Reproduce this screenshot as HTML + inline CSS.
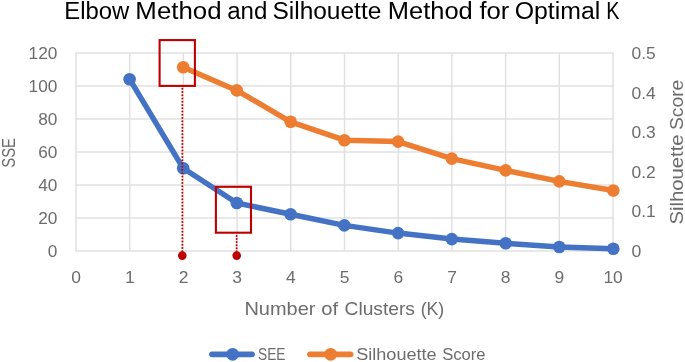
<!DOCTYPE html><html><head><meta charset="utf-8"><title>Elbow Method and Silhouette Method for Optimal K</title>
<style>html,body{margin:0;padding:0;background:#fff;}svg{display:block;font-family:"Liberation Sans",sans-serif;}</style></head><body>
<svg width="685" height="362" viewBox="0 0 685 362">
<rect width="685" height="362" fill="#fff"/>
<g stroke="#e0e0e0" stroke-width="1.45" fill="none">
<line x1="75.3" y1="53.0" x2="613.7" y2="53.0"/>
<line x1="75.3" y1="86.0" x2="613.7" y2="86.0"/>
<line x1="75.3" y1="119.0" x2="613.7" y2="119.0"/>
<line x1="75.3" y1="152.0" x2="613.7" y2="152.0"/>
<line x1="75.3" y1="185.0" x2="613.7" y2="185.0"/>
<line x1="75.3" y1="218.0" x2="613.7" y2="218.0"/>
<line x1="75.3" y1="251.0" x2="613.7" y2="251.0"/>
<line x1="76.0" y1="53.0" x2="76.0" y2="251.0"/>
<line x1="129.7" y1="53.0" x2="129.7" y2="251.0"/>
<line x1="183.4" y1="53.0" x2="183.4" y2="251.0"/>
<line x1="237.1" y1="53.0" x2="237.1" y2="251.0"/>
<line x1="290.8" y1="53.0" x2="290.8" y2="251.0"/>
<line x1="344.5" y1="53.0" x2="344.5" y2="251.0"/>
<line x1="398.2" y1="53.0" x2="398.2" y2="251.0"/>
<line x1="451.9" y1="53.0" x2="451.9" y2="251.0"/>
<line x1="505.6" y1="53.0" x2="505.6" y2="251.0"/>
<line x1="559.3" y1="53.0" x2="559.3" y2="251.0"/>
<line x1="613.0" y1="53.0" x2="613.0" y2="251.0"/>
</g>
<text y="19.0" font-size="23.3" fill="#000"><tspan x="64.25" textLength="65.00" lengthAdjust="spacingAndGlyphs">Elbow</tspan> <tspan x="135.38" textLength="86.14" lengthAdjust="spacingAndGlyphs">Method</tspan> <tspan x="227.17" textLength="40.15" lengthAdjust="spacingAndGlyphs">and</tspan> <tspan x="272.45" textLength="108.87" lengthAdjust="spacingAndGlyphs">Silhouette</tspan> <tspan x="387.81" textLength="84.99" lengthAdjust="spacingAndGlyphs">Method</tspan> <tspan x="479.42" textLength="29.96" lengthAdjust="spacingAndGlyphs">for</tspan> <tspan x="514.73" textLength="85.58" lengthAdjust="spacingAndGlyphs">Optimal</tspan> <tspan x="606.19" textLength="13.26" lengthAdjust="spacingAndGlyphs">K</tspan></text>
<g font-size="17.2" fill="#6c6c6c" text-anchor="end">
<text x="57.4" y="59.0" textLength="28.8" lengthAdjust="spacingAndGlyphs">120</text>
<text x="57.4" y="92.0" textLength="28.8" lengthAdjust="spacingAndGlyphs">100</text>
<text x="57.4" y="125.0" textLength="19.2" lengthAdjust="spacingAndGlyphs">80</text>
<text x="57.4" y="158.0" textLength="19.2" lengthAdjust="spacingAndGlyphs">60</text>
<text x="57.4" y="191.0" textLength="19.2" lengthAdjust="spacingAndGlyphs">40</text>
<text x="57.4" y="224.0" textLength="19.2" lengthAdjust="spacingAndGlyphs">20</text>
<text x="57.4" y="257.0" textLength="9.6" lengthAdjust="spacingAndGlyphs">0</text>
</g>
<g font-size="17.2" fill="#6c6c6c" text-anchor="start">
<text x="631.6" y="59.0" textLength="24.2" lengthAdjust="spacingAndGlyphs">0.5</text>
<text x="631.6" y="98.6" textLength="24.2" lengthAdjust="spacingAndGlyphs">0.4</text>
<text x="631.6" y="138.2" textLength="24.2" lengthAdjust="spacingAndGlyphs">0.3</text>
<text x="631.6" y="177.8" textLength="24.2" lengthAdjust="spacingAndGlyphs">0.2</text>
<text x="631.6" y="217.4" textLength="24.2" lengthAdjust="spacingAndGlyphs">0.1</text>
<text x="631.6" y="257.0" textLength="9.8" lengthAdjust="spacingAndGlyphs">0</text>
</g>
<g font-size="17.2" fill="#6c6c6c" text-anchor="middle">
<text x="76.1" y="283.0" textLength="9.7" lengthAdjust="spacingAndGlyphs">0</text>
<text x="129.8" y="283.0" textLength="9.7" lengthAdjust="spacingAndGlyphs">1</text>
<text x="183.5" y="283.0" textLength="9.7" lengthAdjust="spacingAndGlyphs">2</text>
<text x="237.2" y="283.0" textLength="9.7" lengthAdjust="spacingAndGlyphs">3</text>
<text x="290.9" y="283.0" textLength="9.7" lengthAdjust="spacingAndGlyphs">4</text>
<text x="344.6" y="283.0" textLength="9.7" lengthAdjust="spacingAndGlyphs">5</text>
<text x="398.3" y="283.0" textLength="9.7" lengthAdjust="spacingAndGlyphs">6</text>
<text x="452.0" y="283.0" textLength="9.7" lengthAdjust="spacingAndGlyphs">7</text>
<text x="505.7" y="283.0" textLength="9.7" lengthAdjust="spacingAndGlyphs">8</text>
<text x="559.4" y="283.0" textLength="9.7" lengthAdjust="spacingAndGlyphs">9</text>
<text x="613.1" y="283.0" textLength="19.4" lengthAdjust="spacingAndGlyphs">10</text>
</g>
<text y="315.1" font-size="18.2" fill="#6c6c6c"><tspan x="244.45" textLength="70.95" lengthAdjust="spacingAndGlyphs">Number</tspan> <tspan x="321.37" textLength="16.85" lengthAdjust="spacingAndGlyphs">of</tspan> <tspan x="344.54" textLength="70.40" lengthAdjust="spacingAndGlyphs">Clusters</tspan> <tspan x="420.63" textLength="23.54" lengthAdjust="spacingAndGlyphs">(K)</tspan></text>
<text y="0" font-size="18.2" fill="#6c6c6c" transform="translate(15.0,0) rotate(-90)"><tspan x="-167.71" textLength="29.75" lengthAdjust="spacingAndGlyphs">SSE</tspan></text>
<text y="0" font-size="18.2" fill="#6c6c6c" transform="translate(683.3,0) rotate(-90)"><tspan x="-224.64" textLength="90.25" lengthAdjust="spacingAndGlyphs">Silhouette</tspan> <tspan x="-130.10" textLength="50.41" lengthAdjust="spacingAndGlyphs">Score</tspan></text>
<polyline points="129.6,79.2 183.2,168.3 236.8,203.0 290.6,214.3 344.4,225.4 398.1,233.1 451.8,239.1 505.7,243.3 559.3,247.0 613.3,248.8" fill="none" stroke="#4472c4" stroke-width="5.5" stroke-linejoin="round" stroke-linecap="round"/>
<circle cx="129.6" cy="79.2" r="6.3" fill="#4472c4"/>
<circle cx="183.2" cy="168.3" r="6.3" fill="#4472c4"/>
<circle cx="236.8" cy="203.0" r="6.3" fill="#4472c4"/>
<circle cx="290.6" cy="214.3" r="6.3" fill="#4472c4"/>
<circle cx="344.4" cy="225.4" r="6.3" fill="#4472c4"/>
<circle cx="398.1" cy="233.1" r="6.3" fill="#4472c4"/>
<circle cx="451.8" cy="239.1" r="6.3" fill="#4472c4"/>
<circle cx="505.7" cy="243.3" r="6.3" fill="#4472c4"/>
<circle cx="559.3" cy="247.0" r="6.3" fill="#4472c4"/>
<circle cx="613.3" cy="248.8" r="6.3" fill="#4472c4"/>
<polyline points="183.2,67.2 236.8,90.4 290.6,121.8 344.4,140.2 398.1,141.6 451.8,158.6 505.7,170.4 559.3,181.4 613.3,190.5" fill="none" stroke="#ed7d31" stroke-width="5.5" stroke-linejoin="round" stroke-linecap="round"/>
<circle cx="183.2" cy="67.2" r="6.3" fill="#ed7d31"/>
<circle cx="236.8" cy="90.4" r="6.3" fill="#ed7d31"/>
<circle cx="290.6" cy="121.8" r="6.3" fill="#ed7d31"/>
<circle cx="344.4" cy="140.2" r="6.3" fill="#ed7d31"/>
<circle cx="398.1" cy="141.6" r="6.3" fill="#ed7d31"/>
<circle cx="451.8" cy="158.6" r="6.3" fill="#ed7d31"/>
<circle cx="505.7" cy="170.4" r="6.3" fill="#ed7d31"/>
<circle cx="559.3" cy="181.4" r="6.3" fill="#ed7d31"/>
<circle cx="613.3" cy="190.5" r="6.3" fill="#ed7d31"/>
<g stroke="#c00000" stroke-width="2" stroke-dasharray="0 3.25" stroke-linecap="round" fill="none">
<line x1="182.3" y1="88.7" x2="182.3" y2="252"/>
<line x1="236.6" y1="236" x2="236.6" y2="252" stroke-dasharray="0 3.05"/>
</g>
<circle cx="182.3" cy="255.6" r="4.3" fill="#c00000"/><circle cx="236.7" cy="255.6" r="4.3" fill="#c00000"/>
<g stroke="#c00000" stroke-width="2.1" fill="none">
<rect x="159.6" y="40.1" width="35.3" height="45.8"/>
<rect x="215.9" y="186.8" width="35.1" height="45.9"/>
</g>
<line x1="212" y1="354.3" x2="252" y2="354.3" stroke="#4472c4" stroke-width="5.8" stroke-linecap="round"/><circle cx="232.6" cy="354.3" r="6.4" fill="#4472c4"/>
<text y="359.8" font-size="17.2" fill="#6c6c6c"><tspan x="258.10" textLength="27.42" lengthAdjust="spacingAndGlyphs">SEE</tspan></text>
<line x1="310" y1="354.3" x2="350.6" y2="354.3" stroke="#ed7d31" stroke-width="5.8" stroke-linecap="round"/><circle cx="330.6" cy="354.3" r="6.4" fill="#ed7d31"/>
<text y="359.8" font-size="17.2" fill="#6c6c6c"><tspan x="356.21" textLength="80.43" lengthAdjust="spacingAndGlyphs">Silhouette</tspan> <tspan x="442.18" textLength="43.36" lengthAdjust="spacingAndGlyphs">Score</tspan></text>
</svg></body></html>
